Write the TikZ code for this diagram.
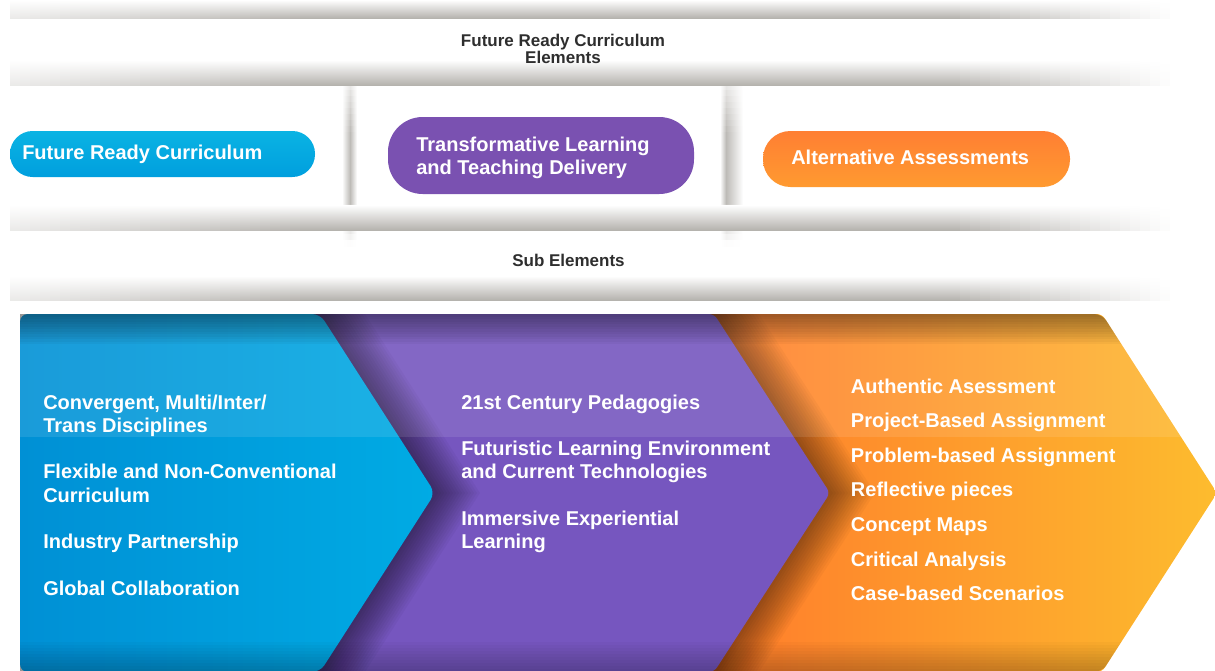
\documentclass[tikz,border=0pt]{standalone}
\usepackage{fontspec}
\setmainfont{Liberation Sans}
\definecolor{shgray}{HTML}{ADAAA5}
\definecolor{txtgray}{HTML}{2E2E2E}
\definecolor{pillblueT}{HTML}{0AB3E3}
\definecolor{pillblueB}{HTML}{009FDE}
\definecolor{pillpurple}{HTML}{7A51B1}
\definecolor{pillorangeT}{HTML}{FF7F33}
\definecolor{pillorangeB}{HTML}{FF9A30}
\definecolor{chevblueL}{HTML}{0090D5}
\definecolor{chevblueR}{HTML}{00ABE4}
\definecolor{chevpurple}{HTML}{7656BF}
\definecolor{chevorangeL}{HTML}{FF7A2B}
\definecolor{chevorangeR}{HTML}{FDBC2E}
\begin{document}
\begin{tikzpicture}[x=0.75pt,y=0.75pt,
	head/.style={anchor=base,text=txtgray,inner sep=0pt,align=center,font=\bfseries\fontsize{12.75}{11.7}\selectfont},
	pill/.style={inner sep=0pt,draw=none},
	pilltext/.style={anchor=base west,text=white,inner sep=0pt,align=left,font=\bfseries\fontsize{15}{16.7}\selectfont},
	item/.style={anchor=base west,text=white,inner sep=0pt,align=left,font=\bfseries\fontsize{15}{17.5}\selectfont}]
	\useasboundingbox (0,-671) rectangle (1215,0);
	\foreach \ya in {84,90,...,240}{
		\pgfmathtruncatemacro\p{max(0,min(80,30+(\ya-85)/45*50,(242-\ya)/40*80))}
		\shade[left color=white,right color=shgray!\p!white] (342,-\ya-6) rectangle (350,-\ya);
		\shade[left color=shgray!\p!white,right color=white] (350,-\ya-6) rectangle (357,-\ya);
		\shade[left color=white,right color=shgray!\p!white] (720,-\ya-6) rectangle (726,-\ya);
		\shade[left color=shgray!\p!white,right color=white] (726,-\ya-6) rectangle (743,-\ya);
	}
	\foreach \ya/\yb in {18/0,85/60,230/205,300/276}
		\foreach \i in {0,...,115}{
			\pgfmathtruncatemacro\xa{10+10*\i}
			\pgfmathtruncatemacro\p{max(0,min(90,25+(\xa-10)/290*65,(1170-\xa)/220*90))}
			\pgfmathtruncatemacro\pm{\p*0.15}
			\shade[top color=white,middle color=shgray!\pm!white,bottom color=shgray!\p!white] (\xa,-\ya) rectangle (\xa+10,-\yb);
		}
	\node[pill,top color=pillblueT,bottom color=pillblueB,minimum width=228.75pt,minimum height=34.5pt,rounded corners=17pt] (frc) at (162.5,-154) {};
	\node[pill,fill=pillpurple,minimum width=229.5pt,minimum height=57.75pt,rounded corners=26pt] (tltd) at (541,-155.5) {};
	\node[pill,top color=pillorangeT,bottom color=pillorangeB,minimum width=230.25pt,minimum height=42pt,rounded corners=20.5pt] (aa) at (916.5,-159) {};
	\node[pilltext] (frctext) at (22,-159.3) {Future Ready Curriculum};
	\node[pilltext] (tltdtext) at (416,-174) {Transformative Learning\\and Teaching Delivery};
	\node[pilltext] (aatext) at (791,-164.3) {Alternative Assessments};
	\node[head] (frce) at (563,-63.3) {Future Ready Curriculum\\Elements};
	\node[head] (sube) at (568.5,-266.7) {Sub Elements};
	\begin{scope}
		\clip (0,-671) rectangle (1215,0);
		\shade[left color=chevorangeL,right color=chevorangeR,rounded corners=4] (700,-314) -- (1102,-314) -- (1217,-493) -- (1102,-672) -- (700,-672) -- cycle;
		\foreach \s in {3,6,...,45}
			\fill[black,opacity=0.03] (300,-314) -- (714+\s,-314) -- (830+\s,-493) -- (714+\s,-672) -- (300,-672) -- cycle;
		\fill[chevpurple,rounded corners=4] (300,-314) -- (714,-314) -- (830,-493) -- (714,-672) -- (300,-672) -- cycle;
		\foreach \s in {3,6,...,45}
			\fill[black,opacity=0.035] (20,-314) -- (320+\s,-314) -- (435+\s,-493) -- (320+\s,-672) -- (20,-672) -- cycle;
		\shade[left color=chevblueL,right color=chevblueR,rounded corners=6] (20,-672) -- (20,-314) -- (320,-314) -- (435,-493) -- (320,-672) -- cycle;
		\clip[rounded corners=6] (20,-672) -- (20,-314) -- (1102,-314) -- (1217,-493) -- (1102,-672) -- cycle;
		\fill[white,opacity=0.1] (0,-437) rectangle (1215,-314);
		\foreach \k in {1,...,12}
			\fill[black,opacity=0.035] (0,-314-2.5*\k) rectangle (1215,-314);
		\foreach \k in {1,...,10}
			\fill[black,opacity=0.025] (0,-672) rectangle (1215,-672+3*\k);
	\end{scope}
	\node[item] (cv1) at (43,-432.5) {Convergent, Multi/Inter/\\Trans Disciplines};
	\node[item] (cv2) at (43,-502) {Flexible and Non-Conventional\\Curriculum};
	\node[item] (cv3) at (43,-548.5) {Industry Partnership};
	\node[item] (cv4) at (43,-595) {Global Collaboration};
	\node[item] (tl1) at (461,-409) {21st Century Pedagogies};
	\node[item] (tl2) at (461,-478.7) {Futuristic Learning Environment\\and Current Technologies};
	\node[item] (tl3) at (461,-548.7) {Immersive Experiential\\Learning};
	\foreach \t [count=\i] in {Authentic Asessment,Project-Based Assignment,Problem-based Assignment,Reflective pieces,Concept Maps,Critical Analysis,Case-based Scenarios}
		\node[item] (as\i) at (850.7,{-393.3-34.55*(\i-1)}) {\t};
\end{tikzpicture}
\end{document}
